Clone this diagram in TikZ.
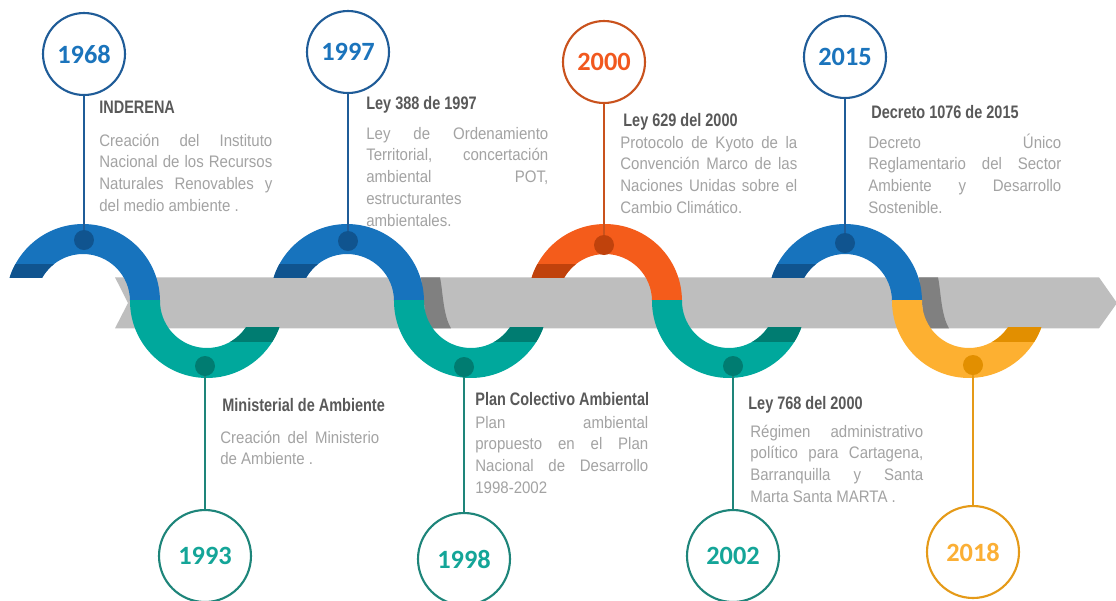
\documentclass[tikz,border=0pt]{standalone}
\usepackage{fontspec}
\setmainfont{Liberation Sans}
\newfontfamily\bodyfont[FakeStretch=0.9]{Liberation Sans}
\newfontfamily\headfont[FakeStretch=0.8]{Liberation Sans}
\newfontfamily\yearfont{Carlito}
\definecolor{bluer}{HTML}{1773BD}
\definecolor{bluedk}{HTML}{10548F}
\definecolor{blueln}{HTML}{1F5C98}
\definecolor{bluetx}{HTML}{1B74BC}
\definecolor{tealr}{HTML}{00A89C}
\definecolor{tealdk}{HTML}{007C71}
\definecolor{tealln}{HTML}{1E857A}
\definecolor{tealtx}{HTML}{14A598}
\definecolor{oranr}{HTML}{F45C1B}
\definecolor{orandk}{HTML}{C0420C}
\definecolor{oranln}{HTML}{C9521D}
\definecolor{orantx}{HTML}{F1581E}
\definecolor{yelr}{HTML}{FDB031}
\definecolor{yeldk}{HTML}{E28F00}
\definecolor{yelln}{HTML}{E59A18}
\definecolor{yeltx}{HTML}{FBAF35}
\definecolor{bandg}{HTML}{BEBEBE}
\definecolor{shadg}{HTML}{808080}
\definecolor{headgray}{HTML}{595959}
\definecolor{bodygray}{HTML}{A3A3A3}
% justified line
\newcommand\JL[1]{\makebox[\linewidth][s]{#1}}
% upper ring: #1 centre x, #2 colour, #3 dark colour
\newcommand\upring[3]{%
  \begin{scope}
    \clip (#1-100,150) rectangle (#1+100,277.5) (#1,150) rectangle (#1+100,301.5);
    \fill[#2] (#1-77,301) arc[start angle=180,end angle=0,radius=1.54cm]
      -- (#1+47,301) arc[start angle=0,end angle=180,radius=0.94cm] -- cycle;
  \end{scope}
  \begin{scope}
    \clip (#1-100,264.5) rectangle (#1,277.5);
    \fill[#3] (#1-77,301) arc[start angle=180,end angle=0,radius=1.54cm]
      -- (#1+47,301) arc[start angle=0,end angle=180,radius=0.94cm] -- cycle;
  \end{scope}}
% lower ring
\newcommand\lowring[3]{%
  \begin{scope}
    \clip (#1-100,300) rectangle (#1,430) (#1-100,327.5) rectangle (#1+100,430);
    \fill[#2] ([shift={(#1,301)}]175:1.54cm) arc[start angle=175,end angle=365,radius=1.54cm]
      -- ([shift={(#1,301)}]365:0.94cm) arc[start angle=365,end angle=175,radius=0.94cm] -- cycle;
  \end{scope}
  \begin{scope}
    \clip (#1,327.5) rectangle (#1+100,341.5);
    \fill[#3] ([shift={(#1,301)}]175:1.54cm) arc[start angle=175,end angle=365,radius=1.54cm]
      -- ([shift={(#1,301)}]365:0.94cm) arc[start angle=365,end angle=175,radius=0.94cm] -- cycle;
  \end{scope}}
\newcommand\ribshadow[1]{%
  \fill[shadg] (#1+74,277.3) -- (#1+93,277.3) .. controls (#1+96,292) and (#1+96,315) .. (#1+104,328.3) -- (#1+80,328.3) -- cycle;}
\begin{document}
\begin{tikzpicture}[x=0.02cm,y=-0.02cm,
  yearc/.style={circle, line width=1.2pt, fill=white, inner sep=0pt,
    font=\yearfont\bfseries\fontsize{15}{18}\selectfont},
  topc/.style={yearc, minimum size=1.64cm},
  botc/.style={yearc, minimum size=1.84cm},
  dotn/.style={circle, inner sep=0pt, minimum size=0.4cm},
  conn/.style={line width=1.2pt},
  head/.style={anchor=base west, inner sep=0pt, text=headgray,
    font=\headfont\bfseries\fontsize{10.3}{12}\selectfont},
  body/.style={anchor=base west, inner sep=0pt, text=bodygray,
    font=\bodyfont\fontsize{9.5}{12.5}\selectfont}]
\useasboundingbox (0,0) rectangle (1116,600);
\fill[white] (0,0) rectangle (1116,600);

% grey arrow band
\fill[bandg] (115,277.3) -- (1099,277.3) -- (1117,303) -- (1099,328.3) -- (115,328.3) -- (128,303) -- cycle;
\ribshadow{347}
\ribshadow{845}

% ribbons
\upring{83}{bluer}{bluedk}
\lowring{207}{tealr}{tealdk}
\upring{347}{bluer}{bluedk}
\lowring{471}{tealr}{tealdk}
\upring{605}{oranr}{orandk}
\lowring{729}{tealr}{tealdk}
\upring{845}{bluer}{bluedk}
\lowring{969}{yelr}{yeldk}

% dots
\node[dotn, fill=bluedk] (d1968) at (84,240) {};
\node[dotn, fill=tealdk] (d1993) at (205,366) {};
\node[dotn, fill=bluedk] (d1997) at (348,241) {};
\node[dotn, fill=tealdk] (d1998) at (464,367) {};
\node[dotn, fill=orandk] (d2000) at (604,245) {};
\node[dotn, fill=tealdk] (d2002) at (733,366) {};
\node[dotn, fill=bluedk] (d2015) at (845,243) {};
\node[dotn, fill=yeldk] (d2018) at (973,365) {};

% year circles
\node[topc, draw=blueln, text=bluetx] (y1968) at (84,54) {1968};
\node[topc, draw=blueln, text=bluetx] (y1997) at (348,52) {1997};
\node[topc, draw=oranln, text=orantx] (y2000) at (604,62) {2000};
\node[topc, draw=blueln, text=bluetx] (y2015) at (845,57) {2015};
\node[botc, draw=tealln, text=tealtx] (y1993) at (205,556) {1993};
\node[botc, draw=tealln, text=tealtx] (y1998) at (464,559) {1998};
\node[botc, draw=tealln, text=tealtx] (y2002) at (733,556) {2002};
\node[botc, draw=yelln, text=yeltx] (y2018) at (973,552) {2018};

% connectors
\draw[conn, blueln] (y1968) -- (d1968);
\draw[conn, blueln] (y1997) -- (d1997);
\draw[conn, oranln] (y2000) -- (d2000);
\draw[conn, blueln] (y2015) -- (d2015);
\draw[conn, tealln] (y1993) -- (d1993);
\draw[conn, tealln] (y1998) -- (d1998);
\draw[conn, tealln] (y2002) -- (d2002);
\draw[conn, yelln] (y2018) -- (d2018);

% texts
\node[head] (h1968) at (99,113) {INDERENA};
\node[body] (b1968) at (99,146) {\parbox[t]{3.46cm}{\JL{Creación del Instituto}\\\JL{Nacional de los Recursos}\\\JL{Naturales Renovables y}\\del medio ambiente .}};

\node[head] (h1997) at (366,109) {Ley 388 de 1997};
\node[body] (b1997) at (366,139) {\parbox[t]{3.64cm}{\JL{Ley de Ordenamiento}\\\JL{Territorial, concertación}\\\JL{ambiental POT,}\\estructurantes\\ambientales.}};

\node[head] (h2000) at (623,126) {Ley 629 del 2000};
\node[body] (b2000) at (620,148) {\parbox[t]{3.54cm}{\JL{Protocolo de Kyoto de la}\\\JL{Convención Marco de las}\\\JL{Naciones Unidas sobre el}\\Cambio Climático.}};

\node[head] (h2015) at (871,118) {Decreto 1076 de 2015};
\node[body] (b2015) at (868,148) {\parbox[t]{3.86cm}{\JL{Decreto Único}\\\JL{Reglamentario del Sector}\\\JL{Ambiente y Desarrollo}\\Sostenible.}};

\node[head] (h1993) at (222,411) {Ministerial de Ambiente};
\node[body] (b1993) at (220,443) {\parbox[t]{3.18cm}{\JL{Creación del Ministerio}\\de Ambiente .}};

\node[head] (h1998) at (475,405) {Plan Colectivo Ambiental};
\node[body] (b1998) at (475,428) {\parbox[t]{3.46cm}{\JL{Plan ambiental}\\\JL{propuesto en el Plan}\\\JL{Nacional de Desarrollo}\\1998-2002}};

\node[head] (h2002) at (748,409) {Ley 768 del 2000};
\node[body] (b2002) at (750,437) {\parbox[t]{3.46cm}{\JL{Régimen administrativo}\\\JL{político para Cartagena,}\\\JL{Barranquilla y Santa}\\Marta Santa MARTA .}};
\end{tikzpicture}
\end{document}
